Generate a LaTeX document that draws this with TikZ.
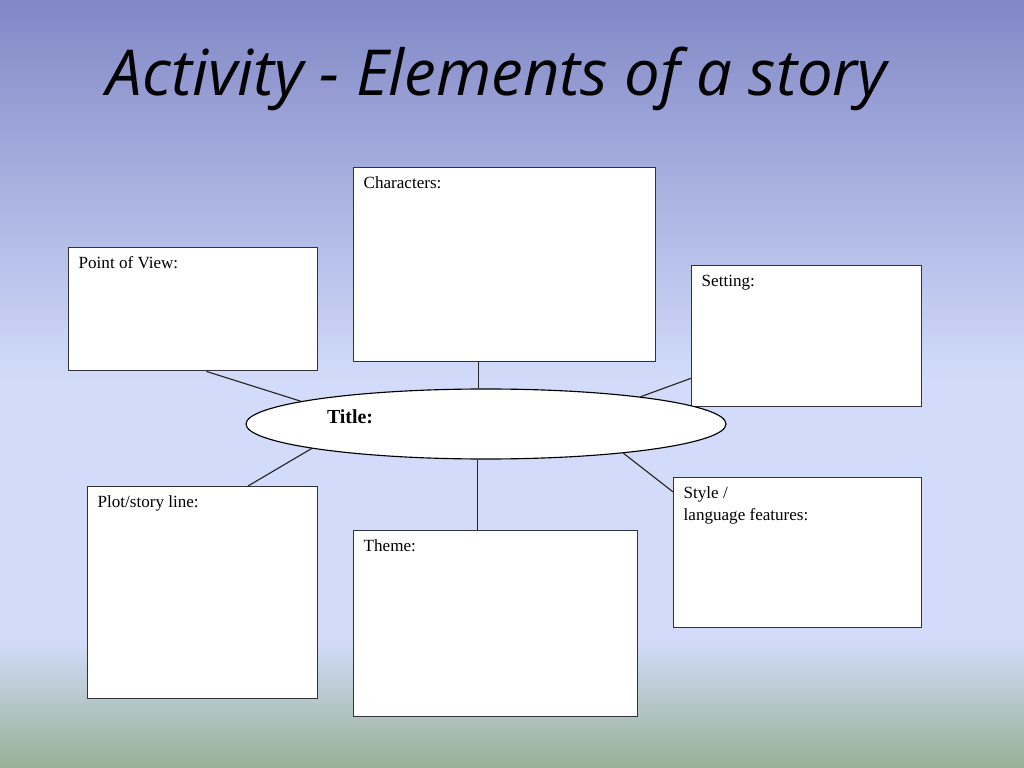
\documentclass[tikz,border=0pt]{standalone}
\usepackage{fontspec}
\setmainfont{Liberation Serif}
\newfontfamily\handfont{Open Sans}
\usetikzlibrary{shapes,backgrounds}
\definecolor{bgtop}{RGB}{129,136,198}
\definecolor{bgmid}{RGB}{210,220,250}
\definecolor{bgbot}{RGB}{152,176,150}
\definecolor{boxline}{RGB}{50,50,60}
\newdimen\pxu \pxu=0.703125pt
% text of a box, put in its upper left corner
\newcommand{\boxtext}[3]{\parbox[c][#2\pxu][t]{#1\pxu}{\fontsize{12}{15.5}\selectfont #3}}

\begin{document}
\begin{tikzpicture}[x=1\pxu, y=-1\pxu,
	box/.style = {draw=boxline, fill=white, line width=1pt, anchor=north west,
		inner xsep=10\pxu, inner ysep=9\pxu},
	spoke/.style = {draw=black!85, line width=.8pt}]
	\useasboundingbox (0,0) rectangle (1024,768);

	\node[box] (chars) at (353,167) {\boxtext{282}{176}{Characters:}};
	\node[box] (pov) at (68,247) {\boxtext{229}{105}{Point of View:}};
	\node[box] (setting) at (691,265) {\boxtext{210}{123}{Setting:}};
	\node[box] (plot) at (87,486) {\boxtext{210}{194}{Plot/story line:}};
	\node[box] (theme) at (353,530) {\boxtext{264}{168}{Theme:}};
	\node[box] (style) at (673,477) {\boxtext{228}{132}{Style /\\language features:}};

	\node[draw=black, fill=white, ellipse, line width=.8pt, inner sep=0pt,
		minimum width=480\pxu, minimum height=70\pxu, text width=318\pxu,
		text height=9.3pt, text depth=10.5pt, align=left,
		font=\fontsize{14}{16}\selectfont\bfseries] (title) at (486,424) {Title:};

	\node[anchor=base, font=\handfont\itshape\fontsize{44.6}{50}\selectfont] (heading) at (497,96) {Activity - Elements of a story};

	\begin{scope}[on background layer]
		\shade[top color=bgtop, bottom color=bgmid] (0,0) rectangle (1024,381);
		\fill[bgmid] (0,380) rectangle (1024,641);
		\shade[top color=bgmid, bottom color=bgbot] (0,640) rectangle (1024,768);
		\draw[spoke] (chars.-105.6) -- (chars.-105.6 |- title.north);
		\draw[spoke] (theme.101) -- (theme.101 |- title.south);
		\draw[spoke] (pov.-78.5) -- (title.173.3);
		\draw[spoke] (setting.200.3) -- (title.10.7);
		\draw[spoke] (plot.67) -- (title.188.8);
		\draw[spoke] (style.154.2) -- (title.348);
	\end{scope}
\end{tikzpicture}
\end{document}
